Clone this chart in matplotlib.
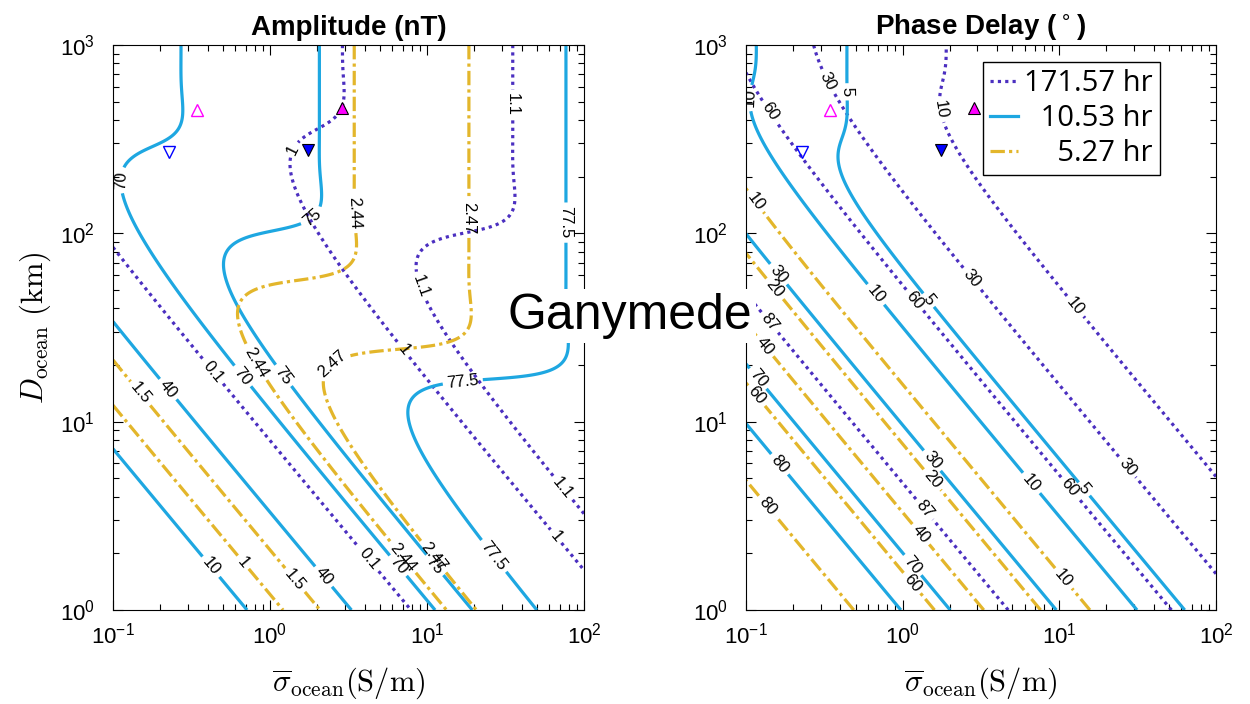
import numpy as np
import matplotlib
matplotlib.use('Agg')
import matplotlib.pyplot as plt
from matplotlib.lines import Line2D

plt.rcParams['font.family'] = ['Liberation Sans', 'DejaVu Sans']

# excitation periods (hr) and peak induced amplitude (nT) for each
periods = [171.57, 10.53, 5.27]
peak_amp = [1.143, 78.0, 2.493]
period_labels = ['171.57 hr', '\u200710.53 hr', '\u2007\u20075.27 hr']
colors = ['#4b2fc0', '#1ea7e1', '#e3b62b']
styles = [(0, (1, 1.3)), '-', (0, (4.5, 1.3, 1, 1.3))]

amp_levels = [[0.1, 1, 1.1], [10, 40, 70, 75, 77.5], [1, 1.5, 2.44, 2.47]]
phase_levels = [[10, 30, 60, 87], [5, 10, 30, 70, 80], [10, 20, 40, 60, 80]]

# interior models (conductivity S/m, ocean thickness km)
model_sigma = [0.343, 0.227, 2.87, 1.75]
model_D = [452, 271, 463, 277]

# Ganymede geometry
R_gan = 2634.1e3
ice = 25e3
mu0 = 4e-7 * np.pi

sigma = np.logspace(-1, 2, 500)
D_km = np.logspace(0, 3, 500)
S, D = np.meshgrid(sigma, D_km)


def shell_response(period_hr):
    # complex response A e^{-i phi} of a conducting shell over an insulating core
    w = 2 * np.pi / (period_hr * 3600.0)
    k = np.sqrt(w * mu0 * S) * (1 - 1j) / np.sqrt(2)
    r_o = R_gan - ice
    x_o = k * r_o
    x_i = k * (r_o - D * 1e3)
    p2p = lambda x: 1 + 3j / x - 3 / x**2
    p2m = lambda x: 1 - 3j / x - 3 / x**2
    E = np.exp(-2j * k * D * 1e3)
    rho = p2p(x_i) / p2m(x_i)
    return (p2p(x_o) - E * rho * p2m(x_o)) / (1 - E * rho)


resp = [shell_response(p) for p in periods]
amps = [b * np.abs(r) for b, r in zip(peak_amp, resp)]
phases = [np.degrees(np.angle(r)) for r in resp]

# contour label spots (sigma, D)
amp_manual = [
    [(0.397, 17.3), (4.03, 1.79), (1.34, 284), (6.93, 23.5), (65, 2.43),
     (36.4, 481), (9.0, 52), (72, 4.4)],
    [(0.386, 1.6), (0.199, 13.7), (2.08, 1.45), (0.1, 192), (0.625, 16.7),
     (6.44, 1.7), (1.75, 130), (1.12, 16.7), (10.9, 1.7), (79, 114),
     (16.9, 16.3), (26.3, 1.92)],
    [(0.625, 1.7), (0.134, 13.1), (1.38, 1.4), (3.24, 128), (0.746, 19.6),
     (6.73, 1.85), (18.8, 121), (2.52, 20), (10.4, 1.85)],
]
phase_manual = [
    [(0.123, 410), (1.14, 43), (11.2, 4.36), (0.296, 613), (2.67, 56.7),
     (26.7, 5.7), (1.65, 452), (12.5, 40.7), (0.136, 32.7), (1.32, 3.33)],
    [(0.397, 563), (1.42, 43.3), (13.8, 4.26), (0.101, 524), (0.635, 45.5),
     (6.44, 4.63), (0.146, 56.7), (1.49, 6.06), (0.103, 15.3), (1.11, 1.68),
     (0.149, 5.56)],
    [(0.103, 138), (10.4, 1.45), (0.142, 48.3), (1.6, 5.05), (0.117, 23.2),
     (1.25, 2.45), (0.109, 13.1), (1.11, 1.36), (0.128, 3.41)],
]

fig = plt.figure(figsize=(12.5, 7.04), dpi=100)
ax1 = fig.add_axes([0.0904, 0.1335, 0.3768, 0.8026])
ax2 = fig.add_axes([0.5968, 0.1335, 0.3760, 0.8026])

panels = [(ax1, amps, amp_levels, amp_manual, 'Amplitude (nT)'),
          (ax2, phases, phase_levels, phase_manual, 'Phase Delay ($^\\circ$)')]

for ax, fields, levels, manual, title in panels:
    ax.set_xscale('log')
    ax.set_yscale('log')
    ax.set_xlim(0.1, 100)
    ax.set_ylim(1, 1000)
    for f, lev, c, ls, pos in zip(fields, levels, colors, styles, manual):
        cs = ax.contour(S, D, f, levels=lev, colors=c, linewidths=2.3,
                        linestyles=[ls] * len(lev))
        ax.clabel(cs, inline=True, fontsize=12, fmt='%g', colors='k',
                  manual=pos, inline_spacing=4)
    ax.plot(model_sigma[0], model_D[0], '^', ms=9, mfc='none', mec='#ff00ff', mew=1)
    ax.plot(model_sigma[1], model_D[1], 'v', ms=9, mfc='none', mec='#0000ff', mew=1)
    ax.plot(model_sigma[2], model_D[2], '^', ms=9, mfc='#ff00ff', mec='k', mew=0.8)
    ax.plot(model_sigma[3], model_D[3], 'v', ms=9, mfc='#0000ff', mec='k', mew=0.8)
    ax.tick_params(which='both', direction='in', top=True, right=True,
                   labelsize=16, width=0.8)
    ax.tick_params(axis='x', which='major', pad=9)
    ax.tick_params(axis='y', which='major', pad=13)
    ax.tick_params(which='major', length=7)
    ax.tick_params(which='minor', length=4)
    for sp in ax.spines.values():
        sp.set_linewidth(0.8)
    ax.set_title(title, fontsize=20, fontweight='bold', pad=7)
    ax.set_xlabel(r'$\overline{\sigma}_{\mathrm{ocean}}\mathrm{(S/m)}$',
                  fontsize=22, math_fontfamily='cm', labelpad=12)

ax1.set_ylabel(r'$D_{\mathrm{ocean}}\ \mathrm{(km)}$', fontsize=22,
               math_fontfamily='cm', labelpad=5)

handles = [Line2D([], [], color=c, ls=ls, lw=2.3) for c, ls in zip(colors, styles)]
ax2.legend(handles, period_labels, loc='upper left', bbox_to_anchor=(0.504, 0.970),
           prop={'family': ['Open Sans', 'DejaVu Sans'], 'size': 21},
           handlelength=0.95, handletextpad=0.2, labelspacing=0.2,
           borderpad=0.25, borderaxespad=0, fancybox=False, framealpha=1,
           edgecolor='k')

fig.text(0.504, 0.551, 'Ganymede', fontsize=36, ha='center', va='center',
         bbox=dict(fc='white', ec='none', pad=3))

fig.savefig('out.png', dpi=100)
